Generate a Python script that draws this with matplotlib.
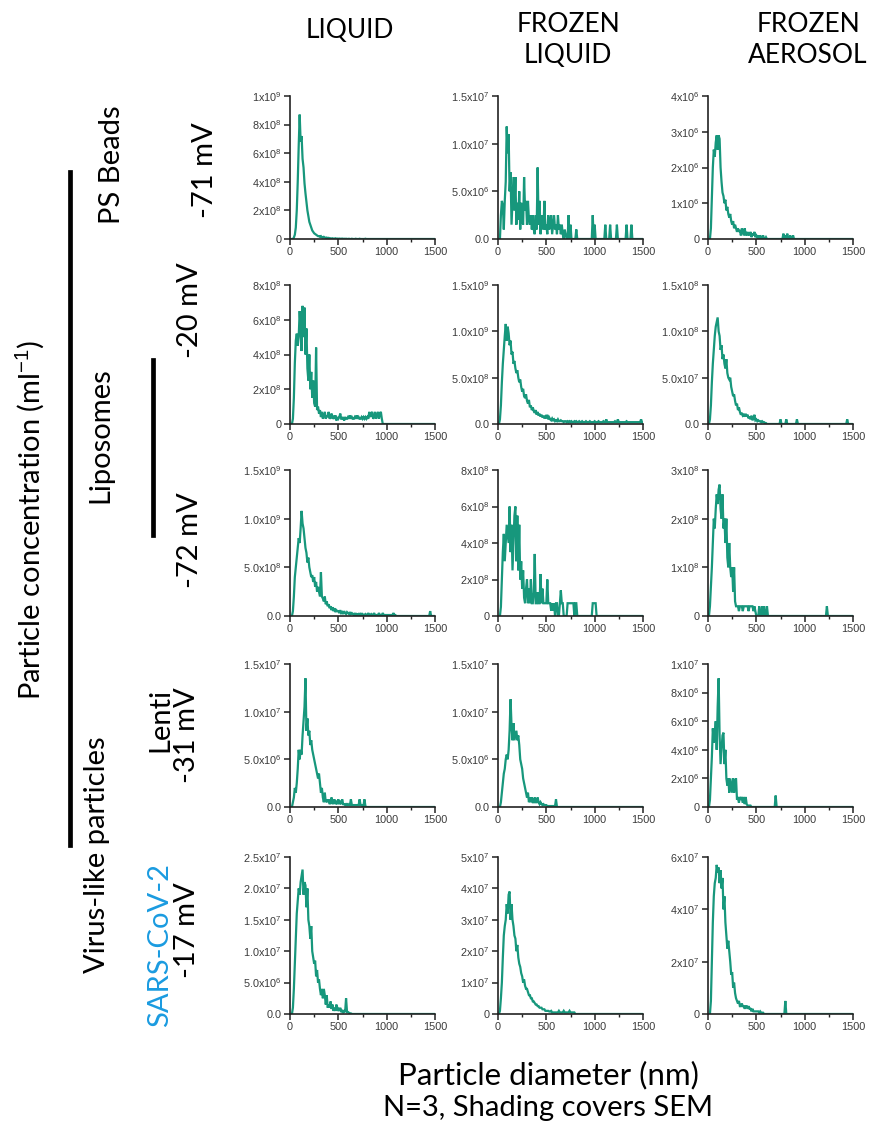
import matplotlib

matplotlib.use("Agg")

import matplotlib.pyplot as plt  # noqa: E402
import numpy as np  # noqa: E402
from matplotlib.lines import Line2D  # noqa: E402

# Size distributions, 10 nm bins starting at 0 nm, in units of each panel's scale.
# Lists stop at the last non-zero bin; the rest up to 1500 nm is zero.
BIN_NM = 10

ps_liquid = [
    0, 0, 0, 0, 0.1, 0.3, 0.8, 2.0, 4.0, 6.5,
    8.7, 6.8, 7.2, 5.6, 5.0, 3.9, 3.2, 2.6, 2.0, 1.6,
    1.2, 1.0, 0.8, 0.6, 0.5, 0.4, 0.35, 0.3, 0.25, 0.2,
    0.2, 0.15, 0.2, 0.12, 0.1, 0.15, 0.1, 0.08, 0.1, 0.05,
    0.08, 0.05, 0.05, 0.03, 0.05, 0.02, 0.03, 0.05, 0.02, 0.03,
    0.02, 0.03, 0.02, 0.02, 0.03, 0.01, 0.02, 0.01, 0.02, 0.01,
    0, 0.02, 0, 0, 0.02, 0, 0, 0, 0.02, 0,
    0, 0, 0.02, 0, 0, 0, 0, 0, 0.02, 0,
]
ps_frozen_liquid = [
    0, 0, 0, 2.5, 4.0, 3.5, 1.0, 4.0, 6.0, 11.8,
    9.0, 11.0, 5.0, 7.0, 1.5, 4.0, 6.5, 3.0, 6.5, 1.5,
    3.8, 2.0, 5.0, 1.0, 3.8, 2.0, 1.5, 6.5, 3.0, 4.0,
    1.5, 4.0, 2.0, 1.5, 2.5, 1.0, 2.5, 1.0, 0.5, 2.5,
    1.0, 7.5, 1.5, 4.0, 0.5, 2.5, 1.5, 1.0, 4.0, 1.0,
    1.5, 0.5, 2.5, 1.0, 1.5, 2.5, 0.5, 1.5, 2.5, 1.0,
    1.5, 0.5, 2.5, 1.0, 1.5, 0.5, 1.5, 0.5, 0, 1.0,
    0.5, 0, 0, 2.5, 0, 1.5, 0, 0, 0, 0,
    0, 1.0, 0, 0, 0, 0, 0, 0, 0, 0,
    0, 0, 0, 0, 0, 0, 0, 0, 2.5, 0,
    1.5, 0, 0, 0, 0, 0, 0, 0, 0, 0,
    0, 1.5, 0, 0, 0, 0, 1.5, 0, 0, 0,
    0, 0, 0, 1.5, 0, 0, 0, 0, 0, 0,
    0, 0, 0, 1.5, 0, 0, 0, 0, 1.5,
]
ps_frozen_aerosol = [
    0, 0, 0, 0.3, 1.2, 2.0, 2.5, 2.3, 2.7, 2.9,
    2.5, 2.9, 2.8, 2.0, 1.6, 1.3, 1.2, 1.0, 1.1, 0.8,
    0.9, 0.7, 0.6, 0.7, 0.5, 0.4, 0.5, 0.3, 0.4, 0.3,
    0.2, 0.3, 0.2, 0.25, 0.1, 0.3, 0.2, 0.1, 0.3, 0.1,
    0.2, 0.1, 0.15, 0.1, 0.2, 0.05, 0.15, 0.1, 0.2, 0.05,
    0.1, 0.05, 0.1, 0, 0.1, 0.05, 0, 0.1, 0, 0,
    0.05, 0, 0, 0, 0, 0, 0, 0, 0, 0,
    0, 0, 0, 0, 0, 0, 0, 0, 0.15, 0,
    0.1, 0, 0.15, 0, 0, 0.1, 0, 0, 0.1,
]

lipo20_liquid = [
    0, 0, 0, 0.3, 1.5, 3.5, 4.8, 5.2, 4.5, 5.0,
    6.5, 5.5, 4.2, 6.8, 5.0, 6.7, 4.0, 5.5, 3.2, 2.5,
    4.0, 2.0, 3.0, 1.5, 2.5, 1.2, 1.0, 4.4, 0.8, 1.0,
    0.6, 0.8, 0.4, 0.7, 0.3, 0.5, 0.7, 0.3, 0.5, 0.4,
    0.7, 0.3, 0.4, 0.6, 0.3, 0.4, 0.3, 0.5, 0.2, 0.4,
    0.3, 0.4, 0.6, 0.3, 0.3, 0.4, 0.2, 0.4, 0.3, 0.3,
    0.4, 0.3, 0.5, 0.3, 0.4, 0.3, 0.3, 0.4, 0.3, 0.5,
    0.3, 0.4, 0.3, 0.3, 0.4, 0.3, 0.4, 0.3, 0.4, 0.3,
    0.4, 0.3, 0.7, 0.4, 0.6, 0.7, 0.3, 0.4, 0.7, 0.3,
    0.5, 0.7, 0.3, 0.6, 0.7, 0.3,
]
lipo20_frozen_liquid = [
    0, 0, 0.5, 2.0, 4.5, 6.5, 8.0, 9.5, 10.8, 9.0,
    10.5, 9.8, 8.5, 9.0, 7.5, 7.8, 6.5, 6.8, 6.0, 5.5,
    5.8, 5.0, 4.5, 4.8, 4.0, 3.5, 3.8, 3.0, 2.8, 3.2,
    2.5, 2.2, 2.6, 1.8, 2.0, 1.5, 1.8, 1.4, 1.2, 1.5,
    1.0, 1.3, 0.9, 1.1, 0.8, 1.0, 0.7, 0.9, 0.6, 0.8,
    0.6, 1.0, 0.5, 0.7, 0.5, 0.4, 0.6, 0.4, 0.5, 0.3,
    0.4, 0.3, 0.5, 0.3, 0.3, 0.4, 0.3, 0.3, 0.2, 0.3,
    0.3, 0.2, 0.3, 0.2, 0.3, 0.2, 0.3, 0.2, 0.2, 0.3,
    0.2, 0.3, 0.2, 0.2, 0.3, 0.2, 0.2, 0.3, 0.2, 0.2,
    0.2, 0.3, 0.2, 0.2, 0.2, 0.3, 0.2, 0.2, 0.2, 0.2,
    0.3, 0.2, 0.2, 0.2, 0.3, 0.2, 0.2, 0.2, 0.2, 0.3,
    0.2, 0.2, 0.5, 0.2, 0.2, 0.2, 0.2, 0.2, 0.2, 0.2,
    0.2, 0.3, 0.2, 0.2, 0.5, 0.2, 0.2, 0.2, 0.2, 0.2,
    0.2, 0.2, 0.2, 0.3, 0.2, 0.2, 0.2, 0.2, 0.2, 0.2,
    0.2, 0.2, 0.2, 0.2, 0.2, 0.2, 0.2, 0.2, 0.5, 0.2,
]
lipo20_frozen_aerosol = [
    0, 0, 0.5, 2.0, 4.5, 6.5, 8.0, 9.5, 10.5, 11.0,
    11.5, 10.0, 9.5, 8.0, 8.5, 7.0, 7.5, 6.5, 6.0, 7.0,
    5.5, 5.0, 4.8, 5.0, 4.0, 3.5, 3.0, 3.2, 2.5, 2.0,
    2.2, 1.5, 1.8, 1.3, 1.0, 1.2, 0.9, 1.0, 0.8, 1.1,
    0.8, 1.0, 0.6, 0.8, 0.5, 0.9, 0.4, 0.6, 1.0, 0.4,
    0.5, 0.3, 0.4, 0.3, 0.3, 0.2, 0.3, 0.2, 0.2, 0.1,
    0.1, 0, 0, 0, 0, 0, 0, 0, 0, 0,
    0, 0, 0, 0, 0, 0.5, 0, 0, 0, 0,
    0, 0.5, 0, 0, 0, 0, 0, 0, 0, 0,
    0, 0, 0.5, 0, 0, 0, 0, 0, 0, 0,
    0, 0, 0, 0, 0, 0, 0, 0, 0, 0,
    0, 0, 0, 0, 0, 0, 0, 0, 0, 0,
    0, 0, 0, 0, 0, 0, 0, 0, 0, 0,
    0, 0, 0, 0, 0, 0, 0, 0, 0, 0,
    0, 0, 0, 0, 0.5,
]

lipo72_liquid = [
    0, 0, 0, 0.5, 2.0, 4.0, 5.0, 6.0, 7.0, 8.0,
    7.5, 9.0, 10.8, 9.5, 9.0, 8.0, 7.0, 6.5, 5.5, 6.0,
    5.0, 4.5, 4.0, 4.2, 3.5, 4.0, 3.0, 3.5, 2.5, 3.0,
    2.5, 2.0, 4.5, 2.0, 1.8, 1.5, 2.0, 1.2, 1.5, 1.0,
    1.2, 0.8, 1.0, 0.6, 0.9, 0.5, 0.8, 0.4, 0.6, 0.5,
    0.5, 0.3, 0.6, 0.3, 0.4, 0.2, 0.5, 0.3, 0.2, 0.4,
    0.3, 0.2, 0.4, 0.2, 0.3, 0.2, 0.1, 0.3, 0.1, 0.2,
    0.1, 0.2, 0.1, 0.3, 0.1, 0.2, 0.1, 0.1, 0.2, 0.1,
    0.1, 0.3, 0.1, 0.1, 0.2, 0.1, 0.1, 0.3, 0.1, 0.1,
    0.1, 0.1, 0.3, 0.1, 0.1, 0.1, 0.3, 0.1, 0.1, 0.1,
    0.1, 0.1, 0.1, 0.1, 0.1, 0.1, 0.1, 0.3, 0.1, 0.1,
    0, 0, 0, 0, 0, 0, 0, 0, 0, 0,
    0, 0, 0, 0, 0, 0, 0, 0, 0, 0,
    0, 0, 0, 0, 0, 0, 0, 0, 0, 0,
    0, 0, 0, 0, 0, 0.5,
]
lipo72_frozen_liquid = [
    0, 0, 0, 0.5, 2.0, 3.5, 4.5, 3.0, 4.0, 5.0,
    4.5, 4.0, 6.0, 3.5, 5.0, 2.5, 4.0, 5.5, 6.0, 3.0,
    5.5, 2.5, 5.0, 2.0, 3.0, 1.5, 2.5, 1.0, 0.7, 1.5,
    2.0, 0.7, 1.5, 0.7, 2.0, 0.7, 0.7, 1.3, 3.4, 0.7,
    0.7, 1.3, 0.7, 0.7, 2.3, 0.7, 1.5, 0.7, 0.7, 0.7,
    0.7, 2.0, 0.7, 0.7, 0.7, 0.3, 0.7, 0.3, 0.7, 0,
    0.7, 0.7, 0, 0, 0.7, 1.4, 0.7, 0.7, 0, 0,
    0, 0, 0.7, 0.7, 0.7, 0.7, 0.7, 0.7, 0.7, 0,
    0.7, 0.7, 0, 0, 0, 0, 0, 0, 0, 0,
    0, 0, 0, 0, 0, 0, 0, 0, 0.7, 0.7,
    0.7, 0.7,
]
lipo72_frozen_aerosol = [
    0, 0, 0.2, 0.6, 1.0, 1.5, 2.0, 1.8, 2.2, 2.5,
    2.3, 2.6, 2.7, 2.2, 2.0, 2.5, 1.8, 2.0, 1.5, 2.0,
    1.2, 1.0, 1.5, 1.0, 0.8, 1.0, 0.5, 1.0, 0.3, 0.2,
    0.2, 0.2, 0.1, 0.2, 0.2, 0.2, 0.1, 0.2, 0.2, 0.2,
    0.2, 0.2, 0.1, 0.2, 0.2, 0.2, 0.2, 0.1, 0.2, 0.1,
    0, 0, 0, 0.2, 0, 0, 0.2, 0, 0.2, 0,
    0, 0.2, 0, 0, 0, 0, 0, 0, 0, 0,
    0, 0, 0, 0, 0, 0, 0, 0, 0, 0,
    0, 0, 0, 0, 0, 0, 0, 0, 0, 0,
    0, 0, 0, 0, 0, 0, 0, 0, 0, 0,
    0, 0, 0, 0, 0, 0, 0, 0, 0, 0,
    0, 0, 0, 0, 0, 0, 0, 0, 0, 0,
    0, 0, 0, 0.2,
]

lenti_liquid = [
    0, 0, 0, 0.5, 1.0, 2.0, 1.5, 2.5, 4.0, 6.0,
    5.0, 6.0, 5.5, 7.5, 9.0, 10.5, 13.5, 8.0, 9.3, 7.5,
    8.0, 6.5, 7.0, 6.0, 5.5, 5.0, 4.5, 4.0, 3.5, 3.0,
    3.5, 2.5, 1.5, 2.0, 1.0, 0.5, 1.5, 0.5, 0.8, 0.5,
    0.8, 0.3, 0.5, 1.0, 0.3, 0.5, 0.8, 0.3, 0.5, 0.3,
    0.8, 0.3, 0.5, 0.3, 0.8, 0.3, 0.3, 0.2, 0.3, 0.2,
    0.3, 0.2, 0.2, 0.8, 0.2, 0.2, 0.2, 0.2, 0.2, 0.2,
    0.2, 0.2, 0.8, 0.2, 0.2, 0.1, 0.1, 0.8, 0.1,
]
lenti_frozen_liquid = [
    0, 0, 0, 0.5, 1.5, 2.5, 3.5, 4.0, 5.0, 5.5,
    5.0, 6.0, 8.0, 11.3, 8.5, 7.0, 8.8, 7.0, 7.5, 8.0,
    7.0, 7.5, 6.5, 5.0, 4.5, 4.0, 3.0, 2.5, 2.0, 1.5,
    1.0, 1.5, 0.5, 1.0, 0.5, 1.0, 0.5, 0.5, 1.0, 0.5,
    0.5, 1.0, 0.5, 0.3, 0.5, 0.3, 0.2, 0.3, 0.2, 0.2,
    0.2, 0.1, 0.1, 0.1, 0.1, 0.1, 0.1, 0.1, 0.1, 0.1,
    0.8,
]
lenti_frozen_aerosol = [
    0, 0, 0.5, 2.0, 3.5, 5.5, 4.5, 5.0, 6.0, 4.0,
    7.0, 9.0, 5.0, 3.0, 4.0, 5.0, 5.2, 3.0, 4.0, 2.0,
    1.5, 2.0, 1.0, 2.0, 1.5, 1.0, 2.0, 1.0, 1.8, 2.0,
    0.5, 0.7, 0.3, 0.7, 0.5, 0.7, 0.3, 0.7, 0.2, 0.7,
    0.2, 0.1, 0.1, 0.1, 0.1, 0, 0, 0, 0, 0,
    0, 0, 0, 0, 0, 0, 0, 0, 0, 0,
    0, 0, 0, 0, 0, 0, 0, 0, 0, 0,
    0.8,
]

sars_liquid = [
    0, 0, 0, 1.0, 4.0, 8.0, 12.0, 16.0, 18.0, 20.0,
    19.0, 21.0, 22.0, 23.0, 19.0, 21.0, 20.5, 17.0, 20.0, 15.0,
    14.0, 12.0, 14.0, 10.0, 9.0, 8.0, 8.5, 6.0, 7.0, 5.0,
    5.5, 4.0, 3.0, 4.0, 2.5, 4.0, 3.0, 1.5, 3.0, 1.0,
    1.5, 1.0, 2.0, 0.8, 1.5, 0.5, 1.0, 0.5, 1.5, 0.5,
    0.8, 0.5, 1.0, 0.3, 0.5, 0.3, 0.5, 0.3, 2.5, 0.3,
    0.3, 0.2, 0.1, 0.1,
]
sars_frozen_liquid = [
    0, 0, 0.1, 0.5, 1.0, 1.8, 2.5, 2.8, 3.0, 3.5,
    3.2, 3.8, 3.9, 3.0, 3.5, 3.0, 2.8, 2.5, 2.4, 2.0,
    2.2, 1.8, 1.6, 1.5, 1.3, 1.2, 1.0, 1.1, 0.9, 0.8,
    0.8, 0.7, 0.6, 0.6, 0.5, 0.5, 0.4, 0.4, 0.35, 0.3,
    0.3, 0.25, 0.25, 0.2, 0.2, 0.2, 0.15, 0.15, 0.15, 0.1,
    0.1, 0.1, 0.1, 0.08, 0.08, 0.1, 0.05, 0.05, 0.05, 0.05,
    0.05, 0.05, 0.05, 0.1, 0.05, 0.05, 0.05, 0.05, 0.1, 0.05,
    0.05, 0.05, 0.05, 0.05, 0.1, 0.05, 0.05, 0.05, 0.05, 0.05,
]
sars_frozen_aerosol = [
    0, 0, 0, 0.5, 2.0, 3.5, 4.5, 5.0, 5.2, 5.7,
    5.4, 5.6, 5.0, 5.5, 4.8, 5.2, 4.0, 4.5, 3.5, 3.0,
    2.5, 2.8, 2.4, 2.0, 1.5, 1.6, 1.0, 1.2, 0.8, 0.6,
    0.5, 0.4, 0.5, 0.3, 0.3, 0.4, 0.3, 0.3, 0.2, 0.3,
    0.3, 0.2, 0.3, 0.2, 0.2, 0.1, 0.2, 0.1, 0.1, 0.1,
    0.1, 0.1, 0.1, 0.05, 0.1, 0.05, 0.05, 0.05, 0, 0,
    0, 0, 0, 0, 0, 0, 0, 0, 0, 0,
    0, 0, 0, 0, 0, 0, 0, 0, 0, 0,
    0.5,
]

# Rows x columns of series, and each panel's y ticks
series = [
    [ps_liquid, ps_frozen_liquid, ps_frozen_aerosol],
    [lipo20_liquid, lipo20_frozen_liquid, lipo20_frozen_aerosol],
    [lipo72_liquid, lipo72_frozen_liquid, lipo72_frozen_aerosol],
    [lenti_liquid, lenti_frozen_liquid, lenti_frozen_aerosol],
    [sars_liquid, sars_frozen_liquid, sars_frozen_aerosol],
]
scales = [
    [1e8, 1e6, 1e6],
    [1e8, 1e8, 1e7],
    [1e8, 1e8, 1e8],
    [1e6, 1e6, 1e6],
    [1e6, 1e7, 1e7],
]
y_ticks = [
    [[0, 2e8, 4e8, 6e8, 8e8, 1e9], [0, 5e6, 1e7, 1.5e7], [0, 1e6, 2e6, 3e6, 4e6]],
    [[0, 2e8, 4e8, 6e8, 8e8], [0, 5e8, 1e9, 1.5e9], [0, 5e7, 1e8, 1.5e8]],
    [[0, 5e8, 1e9, 1.5e9], [0, 2e8, 4e8, 6e8, 8e8], [0, 1e8, 2e8, 3e8]],
    [[0, 5e6, 1e7, 1.5e7], [0, 5e6, 1e7, 1.5e7], [0, 2e6, 4e6, 6e6, 8e6, 1e7]],
    [[0, 5e6, 1e7, 1.5e7, 2e7, 2.5e7], [0, 1e7, 2e7, 3e7, 4e7, 5e7], [0, 2e7, 4e7, 6e7]],
]
tick_decimals = [
    [0, 1, 0],
    [0, 1, 1],
    [1, 0, 0],
    [1, 1, 0],
    [1, 0, 0],
]
x_ticks = [0, 500, 1000, 1500]

col_titles = ["LIQUID", "FROZEN\nLIQUID", "FROZEN\nAEROSOL"]

LINE = "#17977c"
FIG_W, FIG_H = 871, 1126


def sci_label(v, dec):
    if v == 0:
        return "0.0" if dec else "0"
    exp = int(np.floor(np.log10(v) + 1e-9))
    mant = v / 10**exp
    m = f"{mant:.1f}" if dec else f"{mant:.0f}"
    return f"{m}x10$^{{{exp}}}$"


def fx(px):
    return px / FIG_W


def fy(py):
    return 1 - py / FIG_H


plt.rcParams["font.family"] = ["Lato", "DejaVu Sans"]
plt.rcParams["mathtext.fontset"] = "custom"
plt.rcParams["mathtext.rm"] = "Liberation Sans"

fig = plt.figure(figsize=(FIG_W / 100, FIG_H / 100), dpi=100)

col_left = [290, 498, 708]
col_width = 145
row_span = [(96, 239), (285, 424), (470, 616), (664, 807), (857, 1014)]

for r in range(5):
    top, bot = row_span[r]
    for c in range(3):
        ax = fig.add_axes([fx(col_left[c]), fy(bot), fx(col_width), (bot - top) / FIG_H])
        vals = np.zeros(1500 // BIN_NM + 1)
        raw = np.asarray(series[r][c], dtype=float)
        vals[: raw.size] = raw * scales[r][c]
        d = np.arange(vals.size) * BIN_NM
        ax.plot(d, vals, color=LINE, lw=1.6, solid_joinstyle="miter")

        ticks = y_ticks[r][c]
        ax.set_ylim(0, ticks[-1])
        ax.set_xlim(0, 1500)
        ax.set_yticks(ticks)
        ax.set_yticklabels([sci_label(t, tick_decimals[r][c]) for t in ticks])
        ax.set_xticks(x_ticks)
        ax.set_xticks([250, 750, 1250], minor=True)
        ax.set_xticklabels([str(t) for t in x_ticks])
        for side in ("top", "right"):
            ax.spines[side].set_visible(False)
        for side in ("left", "bottom"):
            ax.spines[side].set_linewidth(1.2)
            ax.spines[side].set_color("#222222")
        ax.tick_params(which="major", length=4, width=1.1, color="#222222",
                       labelsize=7.8, labelcolor="#3a3a3a", pad=2)
        ax.tick_params(which="minor", length=2.5, width=1.0, color="#222222")
        for lab in ax.get_xticklabels() + ax.get_yticklabels():
            lab.set_family(["Liberation Sans", "DejaVu Sans"])

# column titles
title_x = [350, 568, 808]
title_y = [30, 40, 40]
for c, t in enumerate(col_titles):
    fig.text(fx(title_x[c]), fy(title_y[c]), t, ha="center", va="center",
             fontsize=19, linespacing=1.3)

# row annotations (rotated)
row_text = [
    ("PS Beads", 112, 165, "black"),
    ("-71 mV", 205, 170, "black"),
    ("Liposomes", 100, 435, "black"),
    ("-20 mV", 190, 310, "black"),
    ("-72 mV", 190, 540, "black"),
    ("Lenti", 160, 720, "black"),
    ("-31 mV", 187, 735, "black"),
    ("Virus-like particles", 97, 855, "black"),
    ("SARS-CoV-2", 160, 945, "#1a9be0"),
    ("-17 mV", 187, 930, "black"),
]
for txt, x, y, col in row_text:
    fig.text(fx(x), fy(y), txt, rotation=90, ha="center", va="center",
             fontsize=21, color=col)

fig.text(fx(30), fy(520), "Particle concentration (ml$^{-1}$)", rotation=90,
         ha="center", va="center", fontsize=21)

# grouping bars
fig.add_artist(Line2D([fx(70), fx(70)], [fy(172), fy(845)], color="black", lw=3.4))
fig.add_artist(Line2D([fx(153), fx(153)], [fy(360), fy(535)], color="black", lw=3.4))

fig.text(fx(548), fy(1075), "Particle diameter (nm)", ha="center", va="center", fontsize=22.5)
fig.text(fx(548), fy(1108), "N=3, Shading covers SEM", ha="center", va="center", fontsize=21)

fig.savefig("out.png", dpi=100)
